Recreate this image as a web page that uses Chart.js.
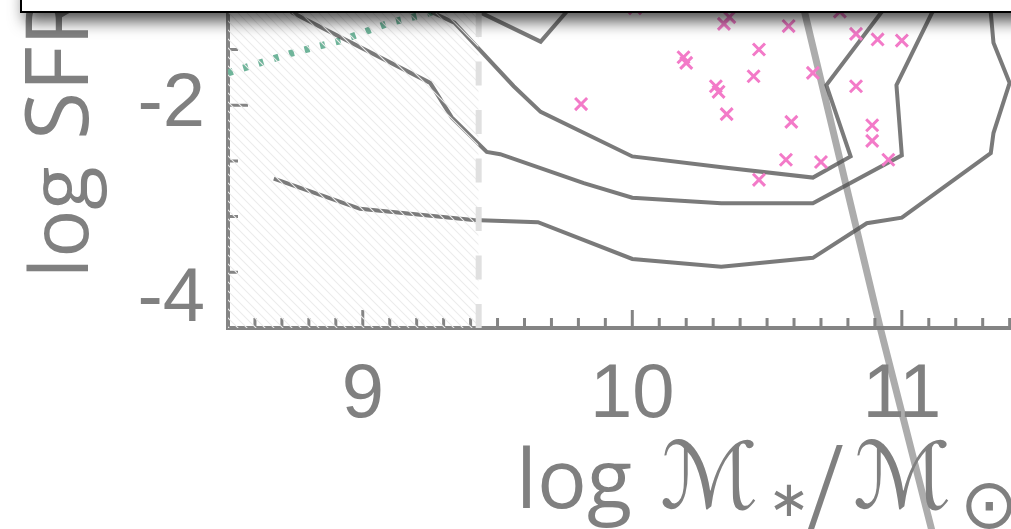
<!DOCTYPE html>
<html>
<head>
<meta charset="utf-8">
<script src="https://cdn.jsdelivr.net/npm/chart.js@4.4.1/dist/chart.umd.min.js"></script>
<style>
  html, body { margin: 0; padding: 0; background: #fff; }
  #wrap { width: 1011px; height: 529px; }
</style>
</head>
<body>
<div id="wrap"><canvas id="chart" width="1011" height="529"></canvas></div>
<script>
// AXES
const xRange = [8.5, 11.405];
const yRange = [-4, -1.056];
const xTickLabels = [9, 10, 11];
const yTickLabels = [-2, -4];
const yMinorTicks = [-1.5, -2.5, -3, -3.5];
const massLimit = 9.43;

// GALAXIES (pink crosses)
const galaxyMass = [10.01, 10.36, 10.34, 10.58, 10.77, 10.83, 10.91, 11.00, 10.47, 10.19, 10.20, 10.45, 10.67,
  10.31, 10.32, 10.83, 9.81, 10.35, 10.59, 10.89, 10.89, 10.57, 10.70, 10.95, 10.47];
const galaxySfr = [-1.13, -1.21, -1.27, -1.29, -1.16, -1.36, -1.41, -1.42, -1.50, -1.57, -1.62, -1.74, -1.71,
  -1.83, -1.88, -1.83, -1.99, -2.08, -2.15, -2.18, -2.32, -2.49, -2.51, -2.49, -2.67];

// CONTOURS
const contourA_x = [9.24, 9.43, 9.66, 9.76, 9.82];
const contourA_y = [-0.97, -1.16, -1.43, -1.15, -0.97];
const contourB_x = [9.19, 9.26, 9.34, 9.56, 9.66, 10.00, 10.34, 10.67, 10.81, 10.72, 10.92, 10.99];
const contourB_y = [-0.97, -1.17, -1.26, -1.83, -2.06, -2.46, -2.56, -2.65, -2.46, -1.82, -1.18, -0.97];
const contourC_x = [8.64, 8.74, 9.25, 9.33, 9.46, 9.51, 9.82, 10.00, 10.33, 10.67, 11.00, 10.98, 11.11, 11.16];
const contourC_y = [-0.97, -1.17, -1.80, -2.11, -2.42, -2.44, -2.70, -2.83, -2.88, -2.88, -2.45, -1.82, -1.18, -0.97];
const contourD_x = [8.67, 8.99, 9.41, 9.65, 10.00, 10.33, 10.67, 10.87, 11.00, 11.33, 11.34, 11.40, 11.34, 11.33, 11.33];
const contourD_y = [-2.66, -2.93, -3.03, -3.05, -3.38, -3.45, -3.37, -3.06, -3.01, -2.43, -2.25, -1.80, -1.44, -1.17, -0.97];

// MAIN SEQUENCE (green dots) and quenching line (grey)
const seqX = [8.50, 8.74, 8.92, 9.10, 9.22, 9.51];
const seqY = [-1.71, -1.53, -1.42, -1.26, -1.19, -0.97];
const cutX = [10.62, 10.92, 11.14];
const cutY = [-0.97, -4.00, -6.09];

const pts = (xs, ys) => xs.map((x, i) => ({ x: x, y: ys[i] }));

const canvas = document.getElementById("chart");
const ctx = canvas.getContext("2d");

// hatch pattern for the incomplete mass region
function makeHatch() {
  const s = 9;
  const c = document.createElement("canvas");
  c.width = s;
  c.height = s;
  const g = c.getContext("2d");
  g.strokeStyle = "#ececec";
  g.lineWidth = 1.1;
  g.beginPath();
  g.moveTo(0, 0); g.lineTo(s, s);
  g.moveTo(-1, s - 1); g.lineTo(1, s + 1);
  g.moveTo(s - 1, -1); g.lineTo(s + 1, 1);
  g.stroke();
  return ctx.createPattern(c, "repeat");
}

const grey = "#848484";
const contourStyle = {
  showLine: true, pointRadius: 0, borderWidth: 4, tension: 0,
  borderColor: "rgba(78,78,78,0.75)", order: 3
};

// DECORATIONS: ticks, tick labels, titles
const decor = {
  id: "decor",
  beforeDatasetsDraw(chart) {
    const { ctx, chartArea: a, scales: { x, y } } = chart;
    ctx.save();
    ctx.strokeStyle = grey;
    ctx.lineWidth = 3;
    ctx.beginPath();
    for (let i = 86; i <= 114; i++) {
      const px = x.getPixelForValue(i / 10);
      const len = i % 10 === 0 ? 16 : 8;
      ctx.moveTo(px, a.bottom - 2);
      ctx.lineTo(px, a.bottom - 2 - len);
    }
    yTickLabels.concat(yMinorTicks).forEach((v) => {
      const py = y.getPixelForValue(v);
      const len = yTickLabels.includes(v) ? 18 : 8;
      ctx.moveTo(a.left + 2, py);
      ctx.lineTo(a.left + 2 + len, py);
    });
    ctx.stroke();

    ctx.fillStyle = "#808080";
    ctx.font = '76px "Liberation Sans", Arial, sans-serif';
    ctx.textAlign = "right";
    ctx.textBaseline = "middle";
    yTickLabels.forEach((v) => {
      const py = Math.min(y.getPixelForValue(v), a.bottom - 28);
      ctx.fillText(String(v), a.left - 23, py);
    });

    // y title
    ctx.textAlign = "left";
    ctx.textBaseline = "alphabetic";
    [["log", 278, 80], ["SFR", 140, 88]].forEach(([t, y0, size]) => {
      ctx.save();
      ctx.font = size + 'px "Open Sans", sans-serif';
      ctx.translate(88, y0);
      ctx.rotate(-Math.PI / 2);
      ctx.fillText(t, 0, 0);
      ctx.restore();
    });

    // x title
    ctx.font = '83px "Open Sans", sans-serif';
    ctx.fillText("log", 516, 508);
    ctx.font = '92px "DejaVu Sans", sans-serif';
    ctx.fillText("\u2133", 660, 508);
    ctx.fillText("\u2133", 853, 508);
    ctx.font = '50px "DejaVu Sans", sans-serif';
    ctx.fillText("\u2217", 768, 516);
    ctx.font = '125px "Liberation Serif", serif';
    ctx.fillText("/", 808, 528);
    ctx.font = '70px "DejaVu Sans", sans-serif';
    ctx.fillText("\u2299", 960, 528);
    ctx.restore();
  },
  afterDraw(chart) {
    // legend frame (its contents are outside the picture)
    const { ctx } = chart;
    ctx.save();
    ctx.shadowColor = "rgba(0,0,0,0.7)";
    ctx.shadowBlur = 16;
    ctx.shadowOffsetX = 4;
    ctx.shadowOffsetY = 9;
    ctx.fillStyle = "#fff";
    ctx.fillRect(21, -20, 1100, 32);
    ctx.shadowColor = "transparent";
    ctx.strokeStyle = "#000";
    ctx.lineWidth = 2;
    ctx.strokeRect(21, -20, 1100, 32);
    ctx.restore();
  }
};

const chart = new Chart(ctx, {
  type: "scatter",
  data: {
    datasets: [
      {
        // mass completeness limit
        data: [{ x: massLimit, y: yRange[0] }, { x: massLimit, y: yRange[1] }],
        showLine: true, pointRadius: 0, borderWidth: 6,
        borderColor: "#e0e0e0", borderDash: [24, 24.5], clip: false, order: 0
      },
      {
        data: [{ x: xRange[0], y: yRange[1] }, { x: massLimit, y: yRange[1] }],
        showLine: true, pointRadius: 0, borderWidth: 0,
        fill: "start", backgroundColor: makeHatch(), order: 1
      },
      {
        data: pts(galaxyMass, galaxySfr),
        pointStyle: "crossRot", pointRadius: 8.5, pointBorderWidth: 3,
        pointBorderColor: "rgb(243,122,200)", pointBackgroundColor: "rgb(243,122,200)", order: 2
      },
      Object.assign({ data: pts(contourA_x, contourA_y) }, contourStyle),
      Object.assign({ data: pts(contourB_x, contourB_y) }, contourStyle),
      Object.assign({ data: pts(contourC_x, contourC_y) }, contourStyle),
      Object.assign({ data: pts(contourD_x, contourD_y) }, contourStyle),
      {
        data: pts(cutX, cutY),
        showLine: true, pointRadius: 0, borderWidth: 7, tension: 0,
        borderColor: "rgba(128,128,128,0.65)", clip: false, order: 4
      },
      {
        data: pts(seqX, seqY),
        showLine: true, pointRadius: 0, borderWidth: 7, tension: 0,
        borderColor: "#6fb49a", borderDash: [5, 11], borderCapStyle: "butt", order: 5
      }
    ]
  },
  options: {
    responsive: false,
    animation: false,
    devicePixelRatio: 1,
    layout: { padding: 0, autoPadding: false },
    plugins: { legend: { display: false }, tooltip: { enabled: false } },
    scales: {
      x: {
        type: "linear",
        min: xRange[0],
        max: xRange[1],
        border: { display: true, color: grey, width: 4 },
        grid: { display: false, drawTicks: false },
        ticks: {
          stepSize: 1,
          includeBounds: false,
          autoSkip: false,
          maxRotation: 0,
          padding: 30,
          color: "#808080",
          font: { family: '"Liberation Sans", Arial, sans-serif', size: 76, lineHeight: 1 },
          callback: (v) => (xTickLabels.includes(v) ? String(v) : "")
        },
        afterFit: (s) => { s.height = 201; s.paddingLeft = 0; s.paddingRight = 0; }
      },
      y: {
        type: "linear",
        min: yRange[0],
        max: yRange[1],
        border: { display: true, color: grey, width: 4 },
        grid: { display: false, drawTicks: false },
        ticks: { display: false },
        afterFit: (s) => { s.width = 228; s.paddingTop = 0; s.paddingBottom = 0; }
      }
    }
  },
  plugins: [decor]
});
</script>
</body>
</html>
